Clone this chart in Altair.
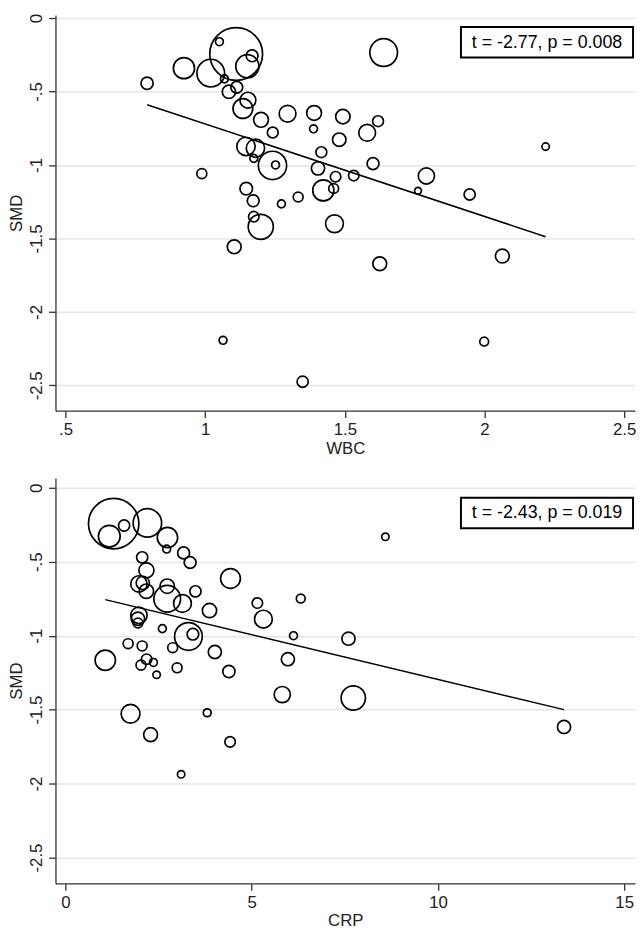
import altair as alt
import pandas as pd

FONT = "Liberation Sans"

# ---- Panel 1: WBC ----
wbc = [0.792, 0.924, 1.020, 1.051, 1.111, 1.151, 1.168, 1.069, 1.113, 1.085,
       1.153, 1.135, 1.200, 1.295, 1.242, 1.390, 1.388, 1.493, 1.619, 1.580,
       1.480, 1.416, 1.146, 1.180, 1.174, 1.241, 1.252, 0.988, 1.404, 1.601,
       1.467, 1.532, 1.792, 1.147, 1.423, 1.460, 1.762, 1.947, 1.172, 1.273,
       1.333, 1.174, 1.199, 1.463, 1.104, 1.625, 2.064, 1.064, 1.999, 1.349,
       1.639, 2.219]
smd_wbc = [-0.444, -0.341, -0.375, -0.161, -0.245, -0.328, -0.257, -0.414, -0.471, -0.502,
           -0.559, -0.616, -0.693, -0.651, -0.779, -0.646, -0.754, -0.671, -0.702, -0.781,
           -0.828, -0.913, -0.874, -0.886, -0.955, -1.003, -1.000, -1.059, -1.023, -0.991,
           -1.080, -1.072, -1.075, -1.161, -1.173, -1.160, -1.176, -1.201, -1.244, -1.265,
           -1.218, -1.352, -1.421, -1.400, -1.557, -1.672, -1.620, -2.193, -2.202, -2.475,
           -0.235, -0.875]
weight_wbc = [38, 114, 196, 16, 713, 137, 36, 16, 36, 45,
              64, 100, 56, 72, 30, 56, 16, 53, 30, 72,
              46, 30, 86, 86, 16, 204, 16, 25, 45, 36,
              28, 28, 67, 40, 114, 25, 12, 32, 36, 16,
              25, 28, 161, 81, 49, 49, 49, 16, 20, 32,
              196, 14]
wbc_fit_x = [0.792, 2.219]
wbc_fit_y = [-0.590, -1.488]
wbc_label = ["t = -2.77, p = 0.008"]

# ---- Panel 2: CRP ----
crp = [1.293, 1.175, 1.573, 2.198, 2.737, 2.715, 3.17, 3.345, 2.058, 2.172,
       1.97, 2.075, 2.17, 2.73, 2.73, 3.14, 3.488, 4.429, 3.865, 5.151,
       6.315, 5.313, 6.121, 7.597, 1.97, 1.944, 1.944, 2.60, 3.30, 3.42,
       1.681, 2.058, 2.877, 4.009, 1.067, 2.177, 2.360, 2.026, 2.446, 2.996,
       4.386, 5.970, 5.819, 7.726, 1.746, 3.804, 2.284, 4.418, 3.103, 8.588,
       13.384]
smd_crp = [-0.242, -0.327, -0.255, -0.237, -0.336, -0.414, -0.440, -0.505, -0.470, -0.558,
           -0.650, -0.643, -0.699, -0.665, -0.750, -0.782, -0.700, -0.613, -0.830, -0.779,
           -0.749, -0.888, -1.000, -1.020, -0.862, -0.885, -0.914, -0.952, -1.005, -0.990,
           -1.054, -1.069, -1.081, -1.110, -1.166, -1.159, -1.181, -1.199, -1.264, -1.217,
           -1.242, -1.159, -1.398, -1.421, -1.528, -1.521, -1.669, -1.718, -1.937, -0.331,
           -1.617]
weight_crp = [650, 121, 32, 207, 106, 16, 36, 36, 32, 58,
              69, 45, 53, 53, 182, 81, 32, 100, 52, 28,
              20, 81, 16, 44, 69, 45, 25, 16, 196, 34,
              25, 25, 25, 44, 106, 28, 16, 25, 14, 25,
              38, 44, 67, 151, 90, 16, 49, 28, 14, 14,
              44]
crp_fit_x = [1.067, 13.384]
crp_fit_y = [-0.756, -1.500]
crp_label = ["t = -2.43, p = 0.019"]

y_ticks = [0, -0.5, -1, -1.5, -2, -2.5]
wbc_ticks = [0.5, 1, 1.5, 2, 2.5]
crp_ticks = [0, 5, 10, 15]

LABEL_EXPR = "replace(toString(datum.value), '0.', '.')"
W = 586


def panel(xs, ys, ws, fx, fy, label, xname, xdomain, xticks, ydomain, height, box_y):
    df = pd.DataFrame({xname: xs, "SMD": ys, "weight": ws})
    fit = pd.DataFrame({xname: fx, "SMD": fy})
    ann = pd.DataFrame({"label": label})

    x_enc = alt.X(
        f"{xname}:Q",
        scale=alt.Scale(domain=xdomain, nice=False, zero=False),
        axis=alt.Axis(values=xticks, title=xname, labelExpr=LABEL_EXPR, grid=False,
                      tickSize=7, labelPadding=4, titlePadding=3),
    )
    y_enc = alt.Y(
        "SMD:Q",
        scale=alt.Scale(domain=ydomain, nice=False, zero=False),
        axis=alt.Axis(values=y_ticks, title="SMD", labelExpr=LABEL_EXPR, grid=True,
                      labelAngle=270, labelAlign="center", labelBaseline="bottom",
                      tickSize=7, labelPadding=3, titlePadding=2),
    )
    pts = alt.Chart(df).mark_point(
        shape="circle", filled=False, color="black", strokeWidth=1.7, opacity=1
    ).encode(
        x=x_enc, y=y_enc,
        size=alt.Size("weight:Q", scale=alt.Scale(type="linear", domain=[0, 1000], range=[0, 4000]),
                      legend=None),
    )
    line = alt.Chart(fit).mark_line(color="black", strokeWidth=1.5).encode(
        x=alt.X(f"{xname}:Q"), y=alt.Y("SMD:Q")
    )
    box = alt.Chart(ann).mark_rect(fill="white", stroke="black", strokeWidth=2).encode(
        x=alt.value(W - 176), x2=alt.value(W - 2), y=alt.value(box_y), y2=alt.value(box_y + 31)
    )
    txt = alt.Chart(ann).mark_text(font=FONT, fontSize=18, color="black").encode(
        x=alt.value(W - 89), y=alt.value(box_y + 16), text="label:N"
    )
    return alt.layer(pts, line, box, txt).properties(width=W, height=height)


top = panel(wbc, smd_wbc, weight_wbc, wbc_fit_x, wbc_fit_y, wbc_label, "WBC",
            [0.464, 2.539], wbc_ticks, [-2.672, 0.02], 400, 12)
bottom = panel(crp, smd_crp, weight_crp, crp_fit_x, crp_fit_y, crp_label, "CRP",
               [-0.27, 15.29], crp_ticks, [-2.675, 0.067], 410, 20)

chart = alt.vconcat(top, bottom, spacing=22).properties(padding=0).configure_view(
    strokeWidth=0
).configure_axis(
    labelFont=FONT, titleFont=FONT, labelFontSize=17, titleFontSize=17,
    titleFontWeight="normal", labelColor="#222", titleColor="#222",
    domainColor="#333", tickColor="#333", domainWidth=1.3, tickWidth=1.3,
    gridColor="#e6e6e6", gridWidth=1.5,
)

chart.save("out.html", embed_options={"renderer": "svg", "actions": False})
